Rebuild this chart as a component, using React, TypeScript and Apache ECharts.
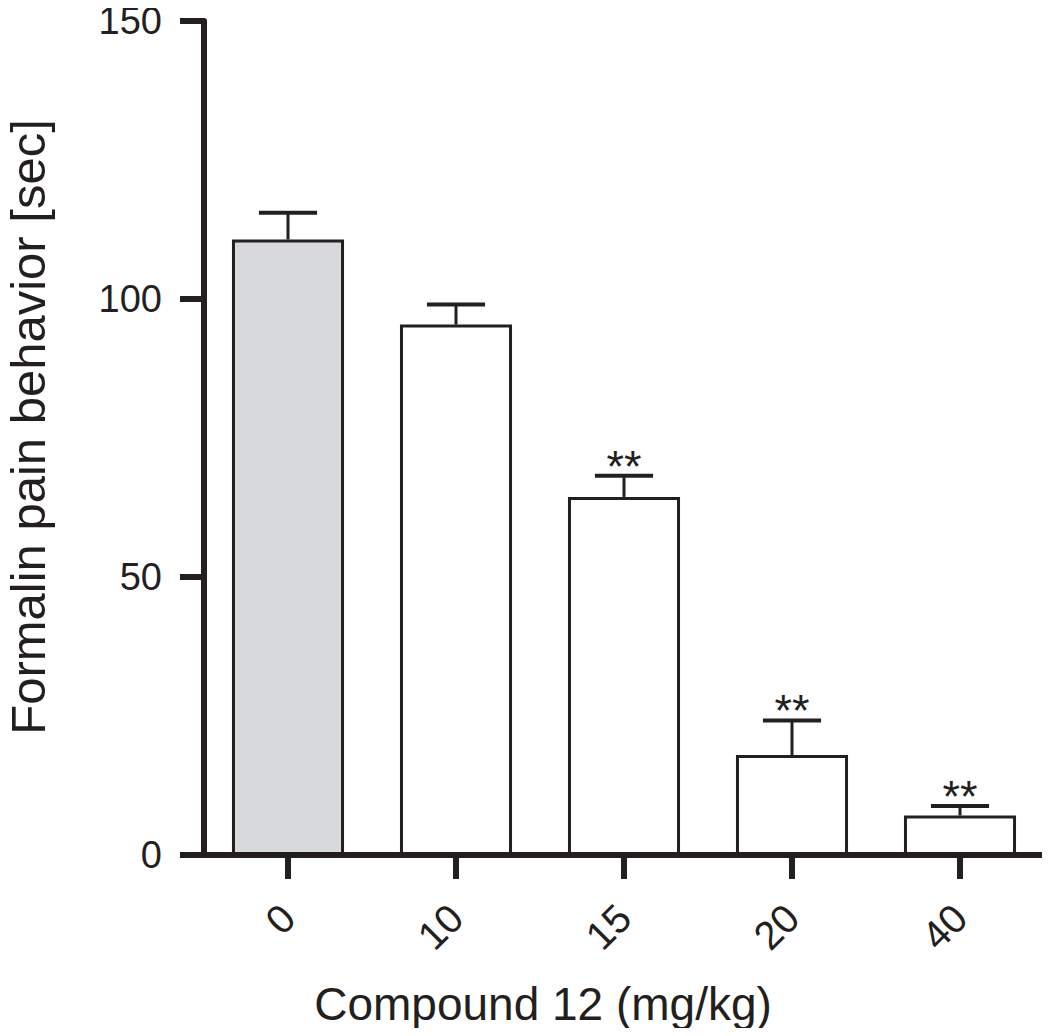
import React, { useEffect, useRef } from "react";
import * as echarts from "echarts";

const categories = ["0", "10", "15", "20", "40"];
const means = [110.7, 95.4, 64.4, 18.0, 7.1];
const sems = [4.8, 3.6, 3.8, 6.2, 1.7];
const significance = ["", "", "**", "**", "**"];
const yTicks = [0, 50, 100, 150];

const INK = "#231f20";
const FONT = "'Liberation Sans', Arial, Helvetica, sans-serif";

export default function App() {
  const ref = useRef<HTMLDivElement>(null);
  useEffect(() => {
    if (!ref.current) return;
    const chart = echarts.init(ref.current, null, { renderer: "svg" });
    const option: any = {
      animation: false,
      backgroundColor: "#ffffff",
      grid: { left: 204, right: 6, top: 21, bottom: 181, containLabel: false, outerBoundsMode: "none" },
      xAxis: {
        type: "category",
        data: categories,
        name: "Compound 12 (mg/kg)",
        nameLocation: "middle",
        nameGap: 126,
        nameTextStyle: { fontSize: 46, color: INK, fontFamily: FONT, padding: [0, 162, 0, 0] },
        axisLine: { show: true, lineStyle: { color: INK, width: 6 } },
        axisTick: { show: true, alignWithLabel: true, length: 24, lineStyle: { color: INK, width: 6 } },
        axisLabel: { rotate: 45, fontSize: 40, color: INK, fontFamily: FONT, margin: 56 },
        splitLine: { show: false },
      },
      yAxis: {
        type: "value",
        min: yTicks[0],
        max: yTicks[yTicks.length - 1],
        interval: 50,
        name: "Formalin pain behavior [sec]",
        nameLocation: "middle",
        nameGap: 152,
        nameTextStyle: { fontSize: 49, color: INK, fontFamily: FONT, padding: [0, 0, 0, 22] },
        axisLine: { show: true, lineStyle: { color: INK, width: 6 } },
        axisTick: { show: true, length: 24, lineStyle: { color: INK, width: 6 } },
        axisLabel: { fontSize: 38, color: INK, fontFamily: FONT, margin: 42 },
        splitLine: { show: false },
      },
      series: [
        {
          type: "bar",
          data: means.map((v, i) => ({
            value: v,
            itemStyle: { color: i === 0 ? "#d8d9db" : "#ffffff" },
          })),
          barWidth: "66.7%",
          itemStyle: { borderColor: INK, borderWidth: 3 },
          z: 2,
        },
        {
          type: "custom",
          z: 3,
          data: means.map((m, i) => [i, m, sems[i]]),
          renderItem: (params: any, api: any) => {
            const idx = params.dataIndex;
            const m = api.value(1);
            const e = api.value(2);
            const top = api.coord([idx, m + e]);
            const base = api.coord([idx, m]);
            const bw = api.size([1, 0])[0];
            const half = bw * 0.173;
            const children: any[] = [
              {
                type: "line",
                shape: { x1: top[0], y1: base[1], x2: top[0], y2: top[1] },
                style: { stroke: INK, lineWidth: 3 },
              },
              {
                type: "line",
                shape: { x1: top[0] - half, y1: top[1], x2: top[0] + half, y2: top[1] },
                style: { stroke: INK, lineWidth: 4 },
              },
            ];
            const s = significance[idx];
            if (s) {
              children.push({
                type: "text",
                x: top[0],
                y: top[1] + 13,
                style: {
                  text: s,
                  fontSize: 45,
                  fontFamily: FONT,
                  fill: INK,
                  align: "center",
                  verticalAlign: "bottom",
                },
              });
            }
            return { type: "group", children };
          },
        },
      ],
    };
    chart.setOption(option);
    return () => chart.dispose();
  }, []);
  return <div ref={ref} style={{ width: 1050, height: 1036, margin: -8 }} />;
}
